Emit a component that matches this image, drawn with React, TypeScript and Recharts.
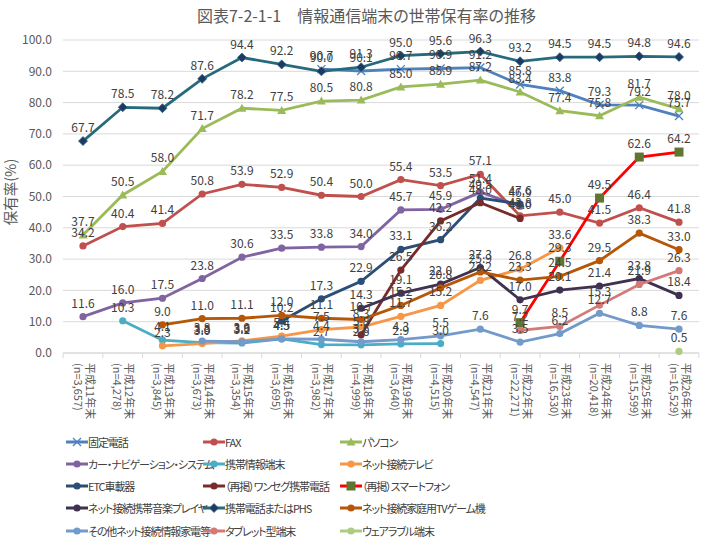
import { LineChart, Line, XAxis, YAxis, CartesianGrid, LabelList } from "recharts";

const years = [
  "平成11年末", "平成12年末", "平成13年末", "平成14年末", "平成15年末", "平成16年末",
  "平成17年末", "平成18年末", "平成19年末", "平成20年末", "平成21年末", "平成22年末",
  "平成23年末", "平成24年末", "平成25年末", "平成26年末",
];
const sampleSizes = [
  "(n=3,657)", "(n=4,278)", "(n=3,845)", "(n=3,673)", "(n=3,354)", "(n=3,695)",
  "(n=3,982)", "(n=4,999)", "(n=3,640)", "(n=4,515)", "(n=4,547)", "(n=22,271)",
  "(n=16,530)", "(n=20,418)", "(n=15,599)", "(n=16,529)",
];
const yTicks = [0, 10, 20, 30, 40, 50, 60, 70, 80, 90, 100];

const fixedPhone = [null, null, null, null, null, null, 90.7, 90.1, 90.7, 90.9, 91.2, 85.8, 83.8, 79.3, 79.2, 75.7];
const fax = [34.2, 40.4, 41.4, 50.8, 53.9, 52.9, 50.4, 50.0, 55.4, 53.5, 57.1, 43.8, 45.0, 41.5, 46.4, 41.8];
const pc = [37.7, 50.5, 58.0, 71.7, 78.2, 77.5, 80.5, 80.8, 85.0, 85.9, 87.2, 83.4, 77.4, 75.8, 81.7, 78.0];
const carNavi = [11.6, 16.0, 17.5, 23.8, 30.6, 33.5, 33.8, 34.0, 45.7, 45.9, 51.4, 46.9, null, null, null, null];
const pda = [null, 10.3, 4.1, 3.3, 3.2, 4.5, 2.7, 2.6, 2.9, 3.0, null, null, null, null, null, null];
const netTv = [null, null, 2.3, 3.0, 3.9, 5.4, 7.5, 8.3, 11.7, 15.2, 23.2, 26.8, 33.6, null, null, null];
const etcUnit = [null, null, null, null, null, 10.2, 17.3, 22.9, 33.1, 36.2, 49.5, 47.6, null, null, null, null];
const oneSeg = [null, null, null, null, null, null, null, 5.8, 26.5, 42.2, 48.0, 43.0, null, null, null, null];
const smartphone = [null, null, null, null, null, null, null, null, null, null, null, 9.7, 29.3, 49.5, 62.6, 64.2];
const musicPlayer = [null, null, null, null, null, null, null, 14.3, 19.1, 22.0, 27.3, 17.0, 20.1, 21.4, 23.8, 18.4];
const mobilePhs = [67.7, 78.5, 78.2, 87.6, 94.4, 92.2, 90.0, 91.3, 95.0, 95.6, 96.3, 93.2, 94.5, 94.5, 94.8, 94.6];
const gameConsole = [null, null, 9.0, 11.0, 11.1, 12.0, 11.1, 10.7, 15.2, 20.8, 25.9, 23.3, 24.5, 29.5, 38.3, 33.0];
const otherAppliances = [null, null, null, 3.8, 3.6, 4.5, 4.4, 3.6, 4.3, 5.5, 7.6, 3.5, 6.2, 12.7, 8.8, 7.6];
const tablet = [null, null, null, null, null, null, null, null, null, null, null, 7.2, 8.5, 15.3, 21.9, 26.3];
const wearable = [null, null, null, null, null, null, null, null, null, null, null, null, null, null, null, 0.5];

type Marker = "circle" | "cross" | "triangle" | "diamond" | "square";
type Series = { key: string; name: string; values: (number | null)[]; color: string; marker: Marker; markerColor?: string };

// legend order (row by row, 3 per row)
const SERIES: Series[] = [
  { key: "fixedPhone", name: "固定電話", values: fixedPhone, color: "#4F81BD", marker: "cross" },
  { key: "fax", name: "FAX", values: fax, color: "#C0504D", marker: "circle" },
  { key: "pc", name: "パソコン", values: pc, color: "#9BBB59", marker: "triangle" },
  { key: "carNavi", name: "カー・ナビゲーション・システム", values: carNavi, color: "#8064A2", marker: "circle" },
  { key: "pda", name: "携帯情報端末", values: pda, color: "#4BACC6", marker: "circle" },
  { key: "netTv", name: "ネット接続テレビ", values: netTv, color: "#F79646", marker: "circle" },
  { key: "etcUnit", name: "ETC車載器", values: etcUnit, color: "#2C4D75", marker: "circle" },
  { key: "oneSeg", name: "（再掲）ワンセグ携帯電話", values: oneSeg, color: "#772C2A", marker: "circle" },
  { key: "smartphone", name: "（再掲）スマートフォン", values: smartphone, color: "#FF0000", marker: "square", markerColor: "#5F7530" },
  { key: "musicPlayer", name: "ネット接続携帯音楽プレイヤー", values: musicPlayer, color: "#403151", marker: "circle" },
  { key: "mobilePhs", name: "携帯電話またはPHS", values: mobilePhs, color: "#276A7C", marker: "diamond", markerColor: "#1F3864" },
  { key: "gameConsole", name: "ネット接続家庭用TVゲーム機", values: gameConsole, color: "#B65708", marker: "circle" },
  { key: "otherAppliances", name: "その他ネット接続情報家電等", values: otherAppliances, color: "#729ACA", marker: "circle" },
  { key: "tablet", name: "タブレット型端末", values: tablet, color: "#D37A77", marker: "circle" },
  { key: "wearable", name: "ウェアラブル端末", values: wearable, color: "#AFCB80", marker: "circle" },
];

const chartData = years.map((year, i) => {
  const row: Record<string, string | number | null> = { year };
  SERIES.forEach((s) => {
    row[s.key] = s.values[i];
  });
  return row;
});

const FONT = "'Noto Sans CJK JP', 'Noto Sans', sans-serif";

function drawMarker(s: Series, cx: number, cy: number, key?: string) {
  const mc = s.markerColor || s.color;
  switch (s.marker) {
    case "cross":
      return (
        <g key={key}>
          <line x1={cx - 4} y1={cy - 4} x2={cx + 4} y2={cy + 4} stroke={s.color} strokeWidth={1.3} />
          <line x1={cx - 4} y1={cy + 4} x2={cx + 4} y2={cy - 4} stroke={s.color} strokeWidth={1.3} />
        </g>
      );
    case "triangle":
      return <polygon key={key} points={`${cx},${cy - 4.5} ${cx + 4.5},${cy + 3.5} ${cx - 4.5},${cy + 3.5}`} fill={mc} />;
    case "diamond":
      return <polygon key={key} points={`${cx},${cy - 4.5} ${cx + 4.5},${cy} ${cx},${cy + 4.5} ${cx - 4.5},${cy}`} fill={mc} stroke={s.color} strokeWidth={0.8} />;
    case "square":
      return <rect key={key} x={cx - 4.5} y={cy - 4.5} width={9} height={9} fill={mc} />;
    default:
      return <circle key={key} cx={cx} cy={cy} r={3.6} fill={mc} />;
  }
}

const makeDot = (s: Series) => (props: any) => {
  const { cx, cy, index } = props;
  if (cx == null || cy == null || props.value == null) return <g key={`${s.key}-${index}`} />;
  return drawMarker(s, cx, cy, `${s.key}-${index}`);
};

const XTick = (props: any) => {
  const { x, y, payload } = props;
  const i = payload.index;
  const half = 19.87;
  return (
    <g>
      <line x1={x - half} y1={y - 8} x2={x - half} y2={y - 3} stroke="#D9D9D9" />
      {i === years.length - 1 && <line x1={x + half} y1={y - 8} x2={x + half} y2={y - 3} stroke="#D9D9D9" />}
      <g transform={`translate(${x},${y + 2}) rotate(90)`}>
        <text x={0} y={-2.5} fontSize={11} fill="#595959" fontFamily={FONT}>{years[i]}</text>
        <text x={0} y={9.5} fontSize={11} fill="#595959" fontFamily={FONT}>{sampleSizes[i]}</text>
      </g>
    </g>
  );
};

const LEGEND_COLS = [66, 203, 340];

function LegendBox() {
  return (
    <div style={{ position: "absolute", left: 0, top: 0, width: 705, height: 540, pointerEvents: "none", fontFamily: FONT }}>
      {SERIES.map((s, i) => (
        <div
          key={s.key}
          style={{
            position: "absolute",
            left: LEGEND_COLS[i % 3],
            top: 441.7 + Math.floor(i / 3) * 22.2 - 8,
            height: 16,
            display: "flex",
            alignItems: "center",
          }}
        >
          <svg width={22} height={12} style={{ flexShrink: 0 }}>
            <line x1={0} y1={6} x2={22} y2={6} stroke={s.color} strokeWidth={3} />
            {drawMarker(s, 11, 6)}
          </svg>
          <span style={{ fontSize: 11, letterSpacing: -1.1, color: "#404040", whiteSpace: "nowrap", fontFeatureSettings: '"palt"' }}>
            {s.name}
          </span>
        </div>
      ))}
    </div>
  );
}

export default function App() {
  return (
    <div style={{ position: "absolute", left: 0, top: 0, width: 705, height: 540, background: "#fff", fontFamily: FONT }}>
      <div style={{ position: "absolute", top: 3, left: 0, width: 705, paddingLeft: 28, boxSizing: "border-box", textAlign: "center", fontSize: 16, color: "#595959", fontFeatureSettings: '"palt"' }}>
        図表7-2-1-1　情報通信端末の世帯保有率の推移
      </div>
      <LineChart width={705} height={540} data={chartData} margin={{ top: 40, right: 6, bottom: 107, left: 0 }}>
        <CartesianGrid horizontal vertical={false} stroke="#D9D9D9" />
        <XAxis
          dataKey="year"
          interval={0}
          padding={{ left: 20, right: 20 }}
          height={80}
          tickLine={false}
          tickSize={0}
          tickMargin={8}
          axisLine={{ stroke: "#D9D9D9" }}
          tick={<XTick />}
        />
        <YAxis
          domain={[0, 100]}
          ticks={yTicks}
          width={63}
          axisLine={false}
          tickLine={false}
          tickSize={0}
          tickMargin={11}
          tickFormatter={(v: number) => v.toFixed(1)}
          tick={{ fill: "#595959", fontSize: 12, fontFamily: FONT }}
          label={{
            content: () => (
              <text transform="translate(16,192) rotate(-90)" textAnchor="middle" fontSize={14.5} fill="#595959" fontFamily={FONT}>
                保有率(%)
              </text>
            ),
          }}
        />
        {SERIES.map((s) => (
          <Line
            key={s.key}
            dataKey={s.key}
            name={s.name}
            stroke={s.color}
            strokeWidth={2.8}
            dot={makeDot(s)}
            activeDot={false}
            isAnimationActive={false}
          >
            <LabelList
              dataKey={s.key}
              position="top"
              offset={9}
              fontSize={12}
              fill="#404040"
              fontFamily={FONT}
              formatter={(v: any) => (v == null ? "" : Number(v).toFixed(1))}
            />
          </Line>
        ))}
      </LineChart>
      <LegendBox />
    </div>
  );
}
